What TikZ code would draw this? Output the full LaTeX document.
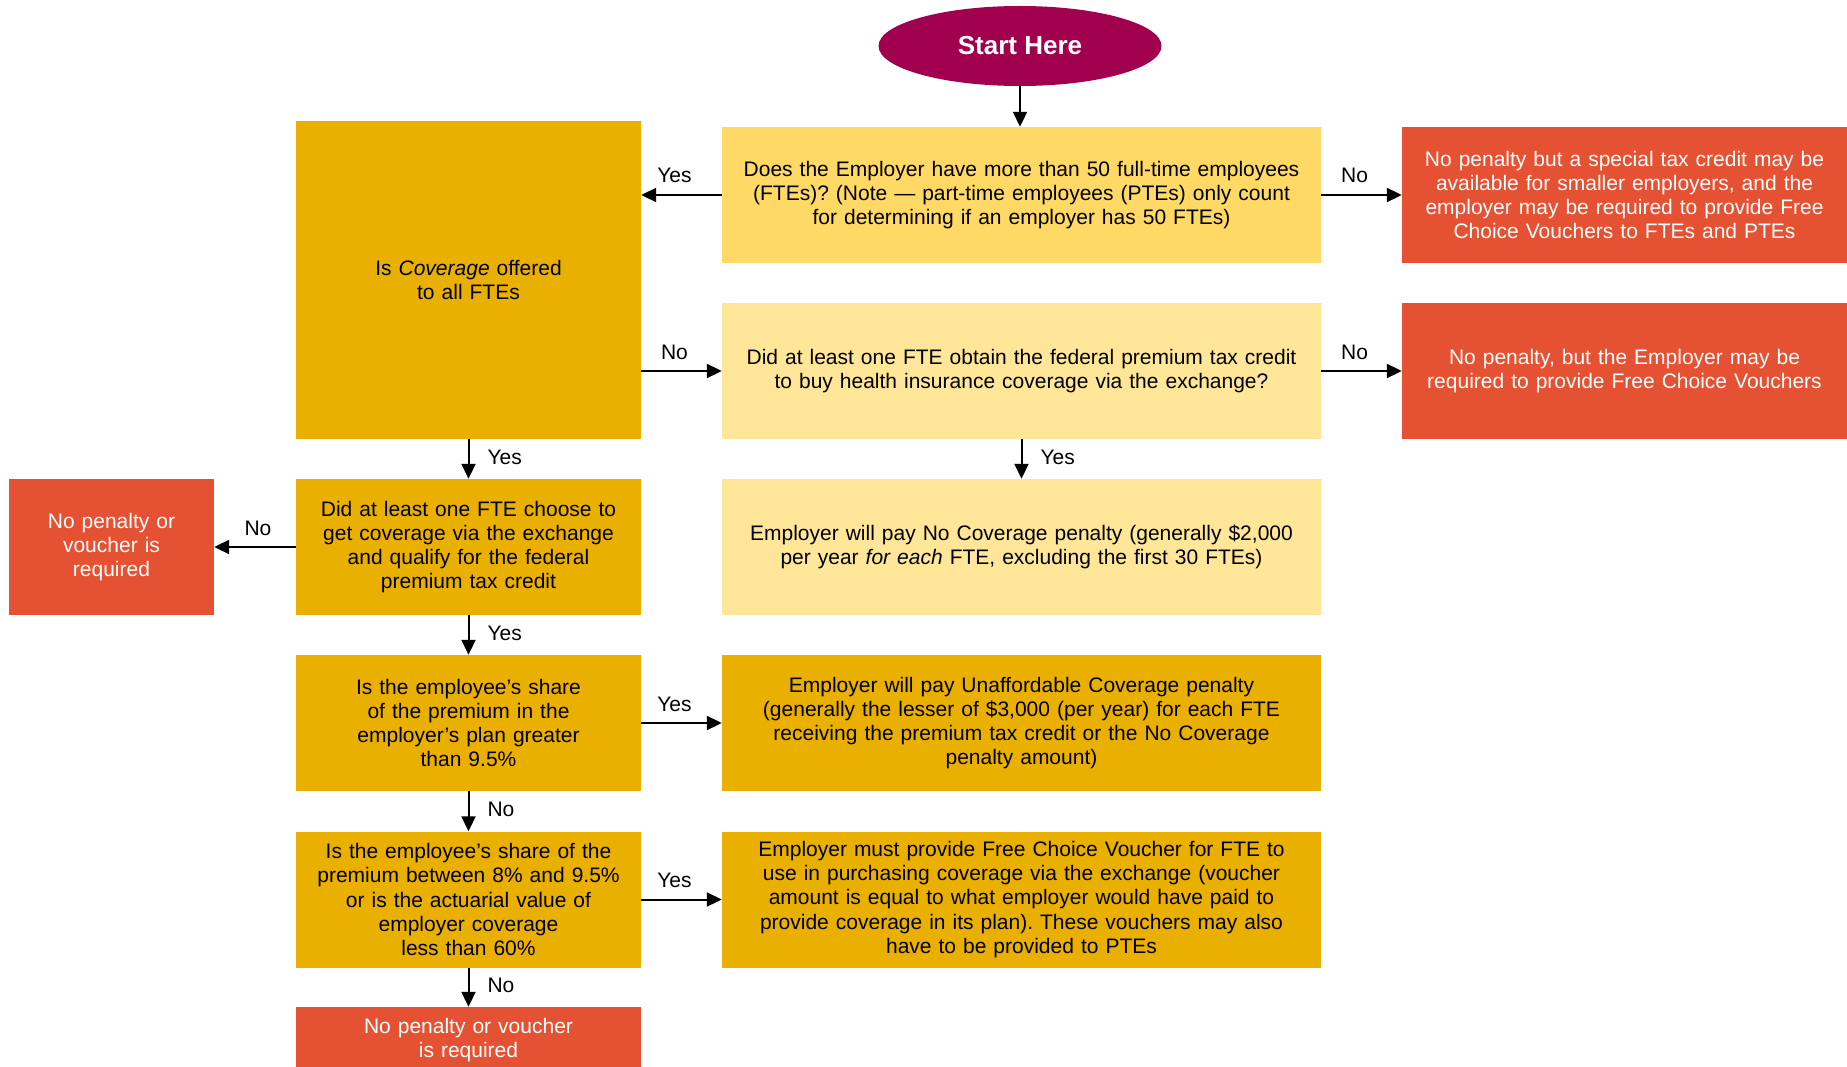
\documentclass[tikz,border=0pt]{standalone}
\usepackage{fontspec}
\setmainfont{Liberation Sans}
\usetikzlibrary{arrows.meta,shapes.geometric}
\definecolor{startc}{HTML}{A0004E}
\definecolor{dkyel}{HTML}{EAB000}
\definecolor{ltyel}{HTML}{FFD966}
\definecolor{paleyel}{HTML}{FFE699}
\definecolor{redbox}{HTML}{E55233}
\frenchspacing
\begin{document}
\begin{tikzpicture}[x=1pt,y=-1pt,
  txt/.style={font=\fontsize{21}{24.2}\selectfont},
  box/.style={rectangle, inner sep=0pt, align=center, txt},
  colbox/.style={box, minimum width=345pt, minimum height=136pt, text width=340pt},
  widebox/.style={box, minimum width=599pt, minimum height=136pt, text width=595pt},
  redr/.style={box, fill=redbox, text=white, minimum width=445pt, minimum height=136pt, text width=440pt},
  arr/.style={line width=2pt, -{Triangle[length=15pt,width=14pt]}},
  lab/.style={txt, inner sep=0pt, text height=14.5pt, text depth=4pt},
  hlab/.style={lab, midway, above=7pt, xshift=-7pt},
  vlab/.style={lab, midway, right=18pt},
]
\useasboundingbox (0,0) rectangle (1847,1067);

\node[ellipse, fill=startc, text=white, minimum width=283pt, minimum height=80pt, inner sep=0pt,
      font=\fontsize{26}{30}\selectfont\bfseries] (start) at (1020,46) {Start Here};

\node[widebox, fill=ltyel] (q1) at (1021.5,195)
  {Does the Employer have more than 50 full-time employees\\(FTEs)? (Note — part-time employees (PTEs) only count\\for determining if an employer has 50 FTEs)};
\node[widebox, fill=paleyel] (q2) at (1021.5,371)
  {Did at least one FTE obtain the federal premium tax credit\\to buy health insurance coverage via the exchange?};
\node[widebox, fill=paleyel] (nc) at (1021.5,547)
  {Employer will pay No Coverage penalty (generally \$2,000\\per year \textit{for each} FTE, excluding the first 30 FTEs)};
\node[widebox, fill=dkyel] (un) at (1021.5,723)
  {Employer will pay Unaffordable Coverage penalty\\(generally the lesser of \$3,000 (per year) for each FTE\\receiving the premium tax credit or the No Coverage\\penalty amount)};
\node[widebox, fill=dkyel] (vo) at (1021.5,899.5)
  {Employer must provide Free Choice Voucher for FTE to\\use in purchasing coverage via the exchange (voucher\\amount is equal to what employer would have paid to\\provide coverage in its plan). These vouchers may also\\have to be provided to PTEs};

\node[box, fill=dkyel, minimum width=345pt, minimum height=318pt, text width=340pt] (cov) at (468.5,280)
  {Is \textit{Coverage} offered\\to all FTEs};
\node[colbox, fill=dkyel] (q3) at (468.5,547)
  {Did at least one FTE choose to\\get coverage via the exchange\\and qualify for the federal\\premium tax credit};
\node[colbox, fill=dkyel] (q4) at (468.5,723)
  {Is the employee’s share\\of the premium in the\\employer’s plan greater\\than 9.5\%};
\node[colbox, fill=dkyel] (q5) at (468.5,899.5)
  {Is the employee’s share of the\\premium between 8\% and 9.5\%\\or is the actuarial value of\\employer coverage\\less than 60\%};
\node[box, fill=redbox, text=white, minimum width=345pt, minimum height=66pt, text width=340pt] (nb) at (468.5,1040)
  {No penalty or voucher\\is required};

\node[box, fill=redbox, text=white, minimum width=205pt, minimum height=136pt, text width=200pt] (nl) at (111.5,547)
  {No penalty or\\voucher is\\required};

\node[redr] (r1) at (1624.5,195)
  {No penalty but a special tax credit may be\\available for smaller employers, and the\\employer may be required to provide Free\\Choice Vouchers to FTEs and PTEs};
\node[redr] (r2) at (1624.5,371)
  {No penalty, but the Employer may be\\required to provide Free Choice Vouchers};

\draw[arr] (start.south) -- (start.south |- q1.north);
\draw[arr] (q1.west) -- (q1.west -| cov.east) node[hlab] (l1) {Yes};
\draw[arr] (q1.east) -- (r1.west) node[hlab] (l2) {No};
\draw[arr] (cov.east |- q2.west) -- (q2.west) node[hlab] (l3) {No};
\draw[arr] (q2.east) -- (r2.west) node[hlab] (l4) {No};
\draw[arr] (cov.south) -- (q3.north) node[vlab] (l5) {Yes};
\draw[arr] (q2.south) -- (nc.north) node[vlab] (l6) {Yes};
\draw[arr] (q3.west) -- (nl.east) node[lab, midway, above=7pt, xshift=3pt] (l7) {No};
\draw[arr] (q3.south) -- (q4.north) node[vlab] (l8) {Yes};
\draw[arr] (q4.east) -- (un.west) node[hlab] (l9) {Yes};
\draw[arr] (q4.south) -- (q5.north) node[vlab] (l10) {No};
\draw[arr] (q5.east) -- (vo.west) node[hlab] (l11) {Yes};
\draw[arr] (q5.south) -- (nb.north) node[vlab] (l12) {No};
\end{tikzpicture}
\end{document}
